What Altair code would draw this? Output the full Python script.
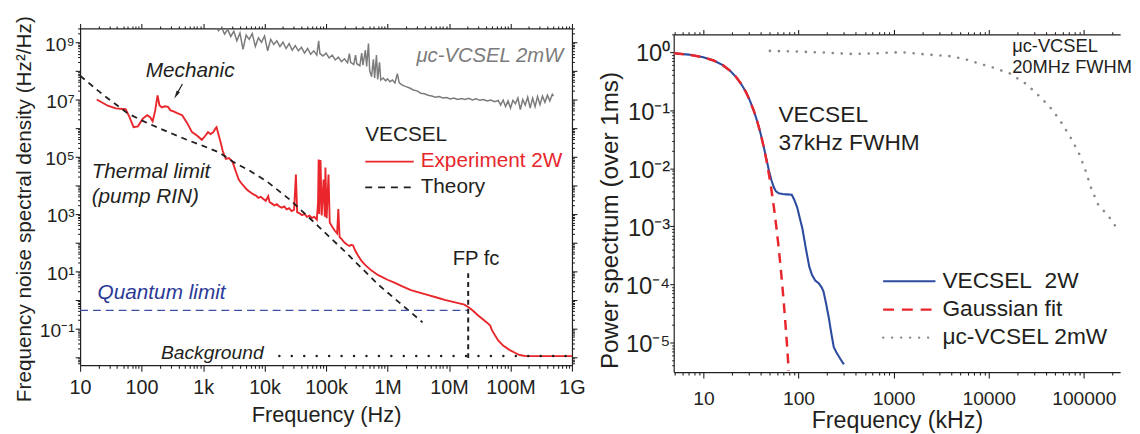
import altair as alt
import pandas as pd

FONT = "Liberation Sans"
INK = "#231f20"
RED = "#e8262b"
BLUE = "#2e4c9f"
QBLUE = "#2b3a96"
GRAY_L = "#7b7b7b"
GRAY_R = "#8a8a8a"

# ---------------- LEFT PANEL (values read as log10) ----------------
# mu-c-VCSEL 2mW frequency noise: log10 f [Hz], log10 S [Hz^2/Hz]
vcsel_fn_logf = [3.20, 3.25, 3.30, 3.35, 3.40, 3.45, 3.50, 3.55, 3.60, 3.65, 3.70, 3.75, 3.80, 3.85,
                 3.90, 3.95, 4.00, 4.05, 4.10, 4.15, 4.20, 4.25, 4.30, 4.35, 4.40, 4.45, 4.50, 4.55,
                 4.60, 4.65, 4.70, 4.75, 4.80, 4.85, 4.88, 4.90, 4.95, 5.00, 5.05, 5.10, 5.15, 5.20,
                 5.25, 5.30, 5.35, 5.38, 5.40, 5.45, 5.48, 5.50, 5.55, 5.58, 5.60, 5.64, 5.66, 5.69,
                 5.71, 5.74, 5.77, 5.79, 5.82, 5.84, 5.87, 5.89, 5.93, 5.97, 6.00, 6.04, 6.08, 6.12,
                 6.16, 6.19, 6.24, 6.30, 6.36, 6.42, 6.48, 6.54, 6.60, 6.66, 6.72, 6.78, 6.84, 6.90,
                 6.96, 7.02, 7.08, 7.14, 7.20, 7.26, 7.32, 7.38, 7.44, 7.50, 7.56, 7.62, 7.68, 7.74,
                 7.80, 7.84, 7.88, 7.92, 7.96, 8.00, 8.04, 8.08, 8.12, 8.16, 8.20, 8.24, 8.28, 8.32,
                 8.36, 8.40, 8.44, 8.48, 8.52, 8.56, 8.60, 8.64, 8.68, 8.70]
vcsel_fn_logS = [9.60, 9.40, 9.52, 9.28, 9.45, 9.20, 9.38, 9.05, 9.32, 8.75, 9.25, 9.10, 9.30, 8.85,
                 9.15, 9.00, 9.22, 8.70, 9.10, 8.92, 9.05, 8.85, 9.00, 8.78, 8.95, 8.72, 8.88, 8.70,
                 8.82, 8.62, 8.78, 8.58, 8.70, 8.55, 9.05, 8.60, 8.52, 8.62, 8.45, 8.55, 8.38, 8.48,
                 8.32, 8.42, 8.28, 8.60, 8.30, 8.22, 8.55, 8.25, 8.18, 8.62, 8.20, 8.72, 8.15, 8.95,
                 8.00, 7.80, 8.40, 7.75, 8.55, 7.70, 8.30, 7.68, 7.75, 7.65, 7.72, 7.62, 7.68, 7.58,
                 7.90, 7.58, 7.50, 7.45, 7.40, 7.33, 7.30, 7.22, 7.20, 7.15, 7.12, 7.08, 7.10, 7.05,
                 7.07, 7.02, 7.05, 7.00, 7.03, 7.00, 7.04, 6.98, 7.02, 6.97, 7.00, 6.95, 6.98, 6.92,
                 6.97, 6.80, 6.98, 6.75, 6.95, 6.70, 6.97, 6.85, 7.05, 6.65, 7.00, 6.80, 7.08, 6.70,
                 7.05, 6.75, 7.10, 6.82, 7.12, 6.90, 7.15, 6.95, 7.18, 7.12]

# VECSEL experiment 2W
exp_logf = [1.27, 1.45, 1.58, 1.74, 1.80, 1.87, 1.94, 2.02, 2.09, 2.14, 2.18, 2.22, 2.26, 2.29, 2.33,
            2.38, 2.43, 2.47, 2.51, 2.58, 2.66, 2.74, 2.82, 2.90, 2.98, 3.04, 3.08, 3.12, 3.16, 3.20,
            3.22, 3.25, 3.28, 3.32, 3.37, 3.42, 3.48, 3.53, 3.58, 3.62, 3.66, 3.70, 3.74, 3.78, 3.82,
            3.86, 3.90, 3.94, 3.98, 4.02, 4.06, 4.08, 4.12, 4.16, 4.20, 4.24, 4.28, 4.32, 4.36, 4.40,
            4.44, 4.48, 4.51, 4.53, 4.57, 4.61, 4.65, 4.69, 4.73, 4.77, 4.81, 4.85, 4.87, 4.88, 4.89,
            4.91, 4.93, 4.96, 4.98, 4.99, 5.01, 5.04, 5.06, 5.10, 5.14, 5.18, 5.20, 5.22, 5.26, 5.30,
            5.34, 5.38, 5.41, 5.44, 5.47, 5.52, 5.58, 5.64, 5.74, 5.85, 6.00, 6.12, 6.25, 6.38, 6.52,
            6.65, 6.80, 6.93, 7.10, 7.25, 7.33, 7.40, 7.46, 7.55, 7.62, 7.67, 7.70, 7.75, 7.80, 7.88,
            7.99, 8.08, 8.15, 8.25, 8.50, 8.75, 9.00]
exp_logS = [7.00, 6.78, 6.69, 6.66, 6.40, 6.03, 6.06, 6.33, 6.45, 6.38, 6.24, 6.60, 7.14, 6.80, 6.72,
            6.76, 6.74, 6.62, 6.59, 6.52, 6.45, 6.18, 5.86, 5.74, 5.59, 5.74, 5.86, 5.79, 5.84, 5.98,
            6.03, 5.78, 5.55, 5.20, 4.92, 4.95, 4.82, 4.50, 4.20, 4.08, 3.98, 3.88, 3.80, 3.74, 3.68,
            3.64, 3.56, 3.60, 3.52, 3.46, 3.62, 3.42, 3.36, 3.30, 3.34, 3.26, 3.22, 3.26, 3.16, 3.20,
            3.10, 3.14, 4.38, 3.06, 3.02, 2.96, 3.00, 2.90, 2.94, 2.86, 2.90, 2.80, 3.40, 4.90, 3.00,
            4.88, 2.95, 4.20, 2.90, 4.62, 2.85, 4.38, 2.70, 2.55, 2.42, 2.32, 3.17, 2.20, 2.10, 2.00,
            1.93, 1.88, 1.92, 1.90, 1.74, 1.55, 1.35, 1.21, 1.02, 0.86, 0.70, 0.59, 0.46, 0.34, 0.25,
            0.17, 0.08, 0.00, -0.09, -0.17, -0.28, -0.40, -0.52, -0.68, -0.80, -0.90, -1.07, -1.25, -1.42, -1.60,
            -1.76, -1.86, -1.93, -1.97, -1.97, -1.97, -1.97]

# Theory (thermal limit)
theory_logf = [1.00, 1.20, 1.40, 1.60, 1.77, 2.00, 2.25, 2.50, 2.75, 3.00, 3.27, 3.48, 3.75, 4.03,
               4.40, 4.77, 5.31, 5.85, 6.57]
theory_logS = [7.83, 7.47, 7.12, 6.80, 6.52, 6.27, 6.03, 5.80, 5.58, 5.38, 5.14, 4.83, 4.52, 4.15,
               3.52, 2.78, 1.68, 0.53, -0.79]

# Quantum limit, background, FP cut-off (log10 values)
quantum_logf = [1.0, 7.31]
quantum_logS = [-0.37, -0.37]
backgr_logf = [4.24, 9.0]
backgr_logS = [-1.966, -1.966]
fpfc_logf = [7.312, 7.312]
fpfc_logS = [0.93, -2.06]

# ---------------- RIGHT PANEL ----------------
# VECSEL 2W power spectrum: f [kHz], P
vecsel_f = [4.9, 7, 10, 13, 16, 19, 22, 25, 28, 31, 34, 37, 40, 43, 46, 49, 52, 55, 58, 62, 68,
            75, 85, 90, 97, 103, 110, 120, 130, 139, 150, 163, 175, 183, 195, 208, 222, 235, 250,
            263, 280, 300]
vecsel_P = [0.953, 0.906, 0.817, 0.710, 0.596, 0.481, 0.375, 0.282, 0.205, 0.143, 0.0963, 0.0625,
            0.0392, 0.0237, 0.0145, 0.0090, 0.0062, 0.0047, 0.0040, 0.0037, 0.0036, 0.00355, 0.0035,
            0.0029, 0.0021, 0.0014, 9.1e-4, 4.0e-4, 2.0e-4, 1.45e-4, 1.17e-4, 1.05e-4, 8.9e-5, 7.6e-5,
            4.7e-5, 2.7e-5, 1.4e-5, 8.3e-6, 6.8e-6, 5.9e-6, 5.0e-6, 4.2e-6]
# Gaussian fit
gauss_f = [4.9, 7, 10, 13, 16, 19, 22, 25, 28, 31, 34, 37, 40, 43, 46, 49, 52, 55, 58, 61, 64, 67,
           70, 73, 76, 79]
gauss_P = [0.953, 0.906, 0.817, 0.710, 0.596, 0.481, 0.375, 0.282, 0.205, 0.143, 0.0963, 0.0625,
           0.0392, 0.0237, 0.0138, 0.00773, 0.00419, 0.00219, 0.00110, 5.34e-4, 2.50e-4, 1.13e-4,
           4.91e-5, 2.06e-5, 8.33e-6, 3.25e-6]
# mu-c-VCSEL 2mW
muvc_f = [50, 100, 200, 360, 630, 1200, 2200, 4000, 5600, 7600, 11200, 16600, 25000, 36000, 47000,
          59000, 74000, 89000, 105000, 120000, 141000, 155000, 182000, 214000, 251000, 295000]
muvc_P = [1.05, 1.02, 0.98, 0.93, 0.95, 1.0, 0.91, 0.85, 0.76, 0.65, 0.54, 0.43, 0.28, 0.16, 0.10,
          0.059, 0.032, 0.018, 0.0089, 0.0044, 0.0024, 0.0020, 0.0015, 0.00102, 0.00089, 0.00079]

# ---------------- tick labels ----------------
lx_labels = [(10.0, "10"), (100.0, "100"), (1e3, "1k"), (1e4, "10k"), (1e5, "100k"), (1e6, "1M"),
             (1e7, "10M"), (1e8, "100M"), (1e9, "1G")]
ly_labels = [(1e9, "10⁹"), (1e7, "10⁷"), (1e5, "10⁵"), (1e3, "10³"), (1e1, "10¹"), (1e-1, "10⁻¹")]
rx_labels = [(10.0, "10"), (100.0, "100"), (1e3, "1000"), (1e4, "10000"), (1e5, "100000")]
ry_labels = [(1.0, "10⁰"), (1e-1, "10⁻¹"), (1e-2, "10⁻²"), (1e-3, "10⁻³"), (1e-4, "10⁻⁴"), (1e-5, "10⁻⁵")]

# ---------------- helpers ----------------
LX_DOM = [10.0, 1e9]
LY_DOM = [10 ** -2.286, 10 ** 9.483]
RX_DOM = [10 ** 0.688, 10 ** 5.382]
RY_DOM = [10 ** -5.51, 10 ** 0.306]


def log_ticks(dom):
    out = []
    for n in range(-8, 11):
        for k in range(1, 10):
            v = float(f"{k}e{n}")
            if dom[0] * 0.9999 <= v <= dom[1] * 1.0001:
                out.append(v)
    return out


def label_expr(pairs):
    expr = "''"
    for v, lab in reversed(pairs):
        expr = f"abs(datum.value/{v!r} - 1) < 1e-6 ? '{lab}' : ({expr})"
    return expr


DECADE = "abs(log(datum.value)/LN10 - round(log(datum.value)/LN10)) < 0.001"


def tcond(major, minor):
    return {"condition": {"test": DECADE, "value": major}, "value": minor}


def frame(xs, ys):
    return pd.DataFrame({"x": xs, "y": ys, "i": list(range(len(xs)))})


def frame_log(lxs, lys):
    return frame([10 ** v for v in lxs], [10 ** v for v in lys])


def enc(dom_x, dom_y, ax_x=None, ax_y=None, tx=None, ty=None):
    X = alt.X("x:Q", scale=alt.Scale(type="log", domain=dom_x, nice=False),
              axis=ax_x, title=tx)
    Y = alt.Y("y:Q", scale=alt.Scale(type="log", domain=dom_y, nice=False),
              axis=ax_y, title=ty)
    return X, Y


LXT = log_ticks(LX_DOM)
LYT = log_ticks(LY_DOM)
RXT = log_ticks(RX_DOM)
RYT = log_ticks(RY_DOM)

common_axis = dict(domainColor=INK, tickColor=INK, domainWidth=1.2, tickWidth=1.1,
                   labelFlush=False, labelOverlap=False, grid=False)

# ---------------- LEFT CHART ----------------
ax_lb = alt.Axis(orient="bottom", values=LXT, labelExpr=label_expr(lx_labels), tickSize=tcond(6, 3),
                 labelFontSize=20, titleFontSize=22, labelPadding=7, titlePadding=7, **common_axis)
ax_lt = alt.Axis(orient="top", values=LXT, labels=False, tickSize=tcond(5, 2.5), **common_axis)
ax_ll = alt.Axis(orient="left", values=LYT, labelExpr=label_expr(ly_labels), tickSize=tcond(5, 2.5),
                 labelFontSize=19.5, titleFontSize=21, labelPadding=1, titlePadding=5, titleY=182.5,
                 labelOffset=2, **common_axis)
ax_lr = alt.Axis(orient="right", values=LYT, labels=False, tickSize=tcond(5, 2.5), **common_axis)

def L(ax_x=None, ax_y=None, tx=None, ty=None):
    return enc(LX_DOM, LY_DOM, ax_x, ax_y, tx, ty)

Xa, Ya = L(ax_lb, ax_ll, "Frequency (Hz)", "Frequency noise spectral density (Hz²/Hz)")
l_gray = alt.Chart(frame_log(vcsel_fn_logf, vcsel_fn_logS)).mark_line(
    color=GRAY_L, strokeWidth=1.5, clip=True).encode(x=Xa, y=Ya, order="i:Q")
Xb, Yb = L(ax_lt, ax_lr)
l_red = alt.Chart(frame_log(exp_logf, exp_logS)).mark_line(
    color=RED, strokeWidth=1.9, clip=True).encode(x=Xb, y=Yb, order="i:Q")
X0, Y0 = L()
l_theory = alt.Chart(frame_log(theory_logf, theory_logS)).mark_line(
    color=INK, strokeWidth=1.8, strokeDash=[6, 5]).encode(x=X0, y=Y0, order="i:Q")
l_quant = alt.Chart(frame_log(quantum_logf, quantum_logS)).mark_line(
    color="#3e50a6", strokeWidth=1.3, strokeDash=[8, 5]).encode(x=X0, y=Y0)
l_back = alt.Chart(frame_log(backgr_logf, backgr_logS)).mark_line(
    color=INK, strokeWidth=2.4, strokeDash=[0.1, 12.5], strokeCap="round").encode(x=X0, y=Y0)
l_fp = alt.Chart(frame_log(fpfc_logf, fpfc_logS)).mark_line(
    color=INK, strokeWidth=2, strokeDash=[5, 4]).encode(x=X0, y=Y0, order="i:Q")

# legend samples (left)
leg_l_red = alt.Chart(frame_log([5.638, 6.427], [4.83, 4.83])).mark_line(
    color=RED, strokeWidth=1.8).encode(x=X0, y=Y0)
leg_l_th = alt.Chart(frame_log([5.638, 6.427], [3.93, 3.93])).mark_line(
    color=INK, strokeWidth=1.8, strokeDash=[7, 6]).encode(x=X0, y=Y0)

# arrow for "Mechanic"
arrow_line = alt.Chart(frame_log([2.664, 2.565], [7.54, 7.159])).mark_line(
    color=INK, strokeWidth=1.2).encode(x=X0, y=Y0, order="i:Q")
arrow_head = alt.Chart(frame_log([2.565], [7.159])).mark_point(
    shape="M -0.45 -1 L 0 1 L 0.45 -1 Z", angle=29, size=70, filled=True, color=INK,
    opacity=1).encode(x=X0, y=Y0)

def texts(df, X, Y, **kw):
    return alt.Chart(df).mark_text(font=FONT, baseline="middle", **kw).encode(x=X, y=Y, text="t:N")

def tframe(lx, ly, t):
    d = frame_log(lx, ly)
    d["t"] = t
    return d

t_vecsel = texts(tframe([5.638], [5.76], ["VECSEL"]), X0, Y0, align="left", fontSize=21, color=INK)
t_exp = texts(tframe([6.539], [4.83], ["Experiment 2W"]), X0, Y0, align="left", fontSize=21, color=RED)
t_theory = texts(tframe([6.539], [3.93], ["Theory"]), X0, Y0, align="left", fontSize=21, color=INK)
t_fp = texts(tframe([7.44], [1.43], ["FP fc"]), X0, Y0, align="center", fontSize=20.5, color=INK)
t_mech = texts(tframe([2.79], [8.0], ["Mechanic"]), X0, Y0, align="center", fontSize=21,
               color=INK, fontStyle="italic")
t_therm = texts(tframe([1.188, 1.188], [4.45, 3.59], ["Thermal limit", "(pump RIN)"]), X0, Y0,
                align="left", fontSize=21, color=INK, fontStyle="italic")
t_quant = texts(tframe([1.285], [0.241], ["Quantum limit"]), X0, Y0, align="left", fontSize=21,
                color=QBLUE, fontStyle="italic")
t_back = texts(tframe([2.315], [-1.862], ["Background"]), X0, Y0, align="left", fontSize=19.5,
               color=INK, fontStyle="italic")
t_muv = texts(tframe([8.858], [8.52], ["μc-VCSEL 2mW"]), X0, Y0, align="right", fontSize=20.5,
              color=GRAY_L, fontStyle="italic")

left = alt.layer(l_gray, l_red, l_theory, l_quant, l_back, l_fp, leg_l_red, leg_l_th,
                 arrow_line, arrow_head, t_vecsel, t_exp, t_theory, t_fp, t_mech, t_therm,
                 t_quant, t_back, t_muv).resolve_axis(x="independent", y="independent").properties(
    width=498, height=341)

# ---------------- RIGHT CHART ----------------
ax_rb = alt.Axis(orient="bottom", values=RXT, labelExpr=label_expr(rx_labels), tickSize=tcond(6, 3),
                 labelFontSize=19.5, titleFontSize=23.5, labelPadding=12, titlePadding=1, **common_axis)
ax_rt = alt.Axis(orient="top", values=RXT, labels=False, tickSize=tcond(5, 2.5), **common_axis)
ax_rl = alt.Axis(orient="left", values=RYT, labelExpr=label_expr(ry_labels), tickSize=tcond(4, 2),
                 labelFontSize=24, titleFontSize=24.5, labelPadding=0, titlePadding=3, titleY=188,
                 labelOffset=2, **common_axis)

def R(ax_x=None, ax_y=None, tx=None, ty=None):
    return enc(RX_DOM, RY_DOM, ax_x, ax_y, tx, ty)

Xr1, Yr1 = R(ax_rb, ax_rl, "Frequency (kHz)", "Power spectrum (over 1ms)")
r_muv = alt.Chart(frame(muvc_f, muvc_P)).mark_line(
    color=GRAY_R, strokeWidth=2.6, strokeDash=[0.1, 9], strokeCap="round", clip=True).encode(
    x=Xr1, y=Yr1, order="i:Q")
Xr2, Yr2 = R(ax_rt)
r_blue = alt.Chart(frame(vecsel_f, vecsel_P)).mark_line(
    color=BLUE, strokeWidth=2.1, clip=True).encode(x=Xr2, y=Yr2, order="i:Q")
XR, YR = R()
r_gauss = alt.Chart(frame(gauss_f, gauss_P)).mark_line(
    color=RED, strokeWidth=2.5, strokeDash=[10, 7], clip=True).encode(x=XR, y=YR, order="i:Q")

leg_r_blue = alt.Chart(frame_log([2.89, 3.44], [-3.946, -3.946])).mark_line(
    color=BLUE, strokeWidth=2.1).encode(x=XR, y=YR)
leg_r_red = alt.Chart(frame_log([2.89, 3.44], [-4.433, -4.433])).mark_line(
    color=RED, strokeWidth=2.3, strokeDash=[11, 8]).encode(x=XR, y=YR)
leg_r_gray = alt.Chart(frame_log([2.89, 3.44], [-4.915, -4.915])).mark_line(
    color=GRAY_R, strokeWidth=2.4, strokeDash=[0.1, 9], strokeCap="round").encode(x=XR, y=YR)

rt_main = texts(tframe([1.789, 1.789], [-1.088, -1.573], ["VECSEL", "37kHz FWHM"]), XR, YR,
                align="left", fontSize=23, color=INK)
rt_muv = texts(tframe([4.247, 4.247], [0.102, -0.255], ["μc-VCSEL", "20MHz FWHM"]), XR, YR,
               align="left", fontSize=18.5, color=INK)
rt_leg = texts(tframe([3.513, 3.513, 3.513], [-3.946, -4.433, -4.915],
                      ["VECSEL\u00a0 2W", "Gaussian fit", "μc-VCSEL 2mW"]), XR, YR,
               align="left", fontSize=23, color=INK)

right = alt.layer(r_muv, r_blue, r_gauss, leg_r_blue, leg_r_red, leg_r_gray, rt_main, rt_muv,
                  rt_leg).resolve_axis(x="independent", y="independent").properties(
    width=452, height=342)

spacer = alt.Chart(pd.DataFrame({"a": [1.0]})).mark_point(opacity=0).encode(
    x=alt.X("a:Q", axis=None), y=alt.Y("a:Q", axis=None)).properties(width=452, height=6)

right_col = alt.vconcat(spacer, right, spacing=0, bounds="flush")

chart = alt.hconcat(left, right_col, spacing=103, bounds="flush").properties(
    padding={"left": 5, "top": 5, "right": 0, "bottom": 0}
).configure_view(stroke=None).configure_axis(
    labelFont=FONT, titleFont=FONT, titleFontWeight="normal", labelColor=INK, titleColor=INK
).configure_text(font=FONT)

chart.save("out.html", embed_options={"renderer": "svg", "actions": False})
